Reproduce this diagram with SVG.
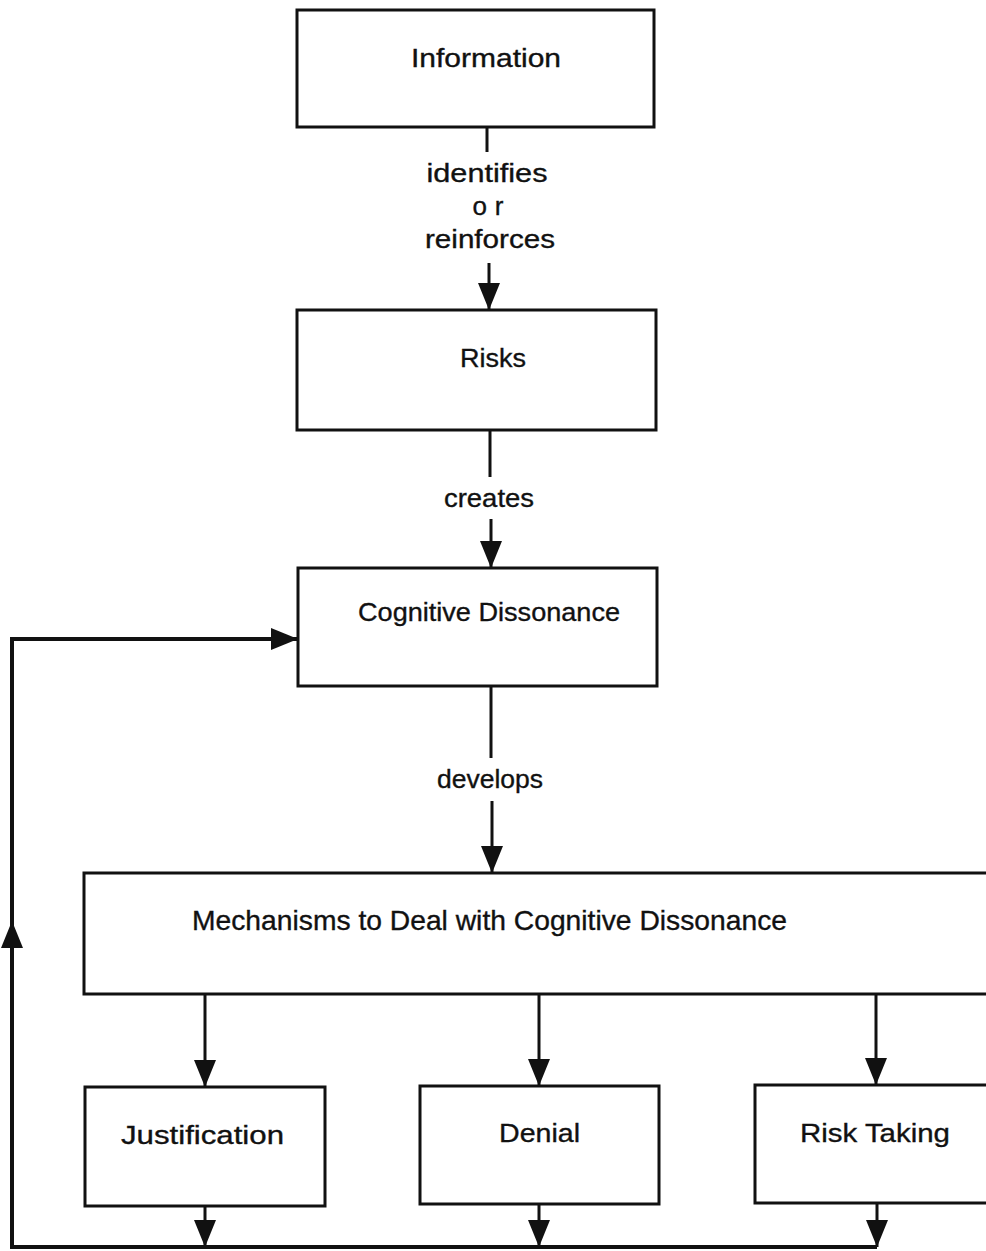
<svg xmlns="http://www.w3.org/2000/svg" width="986" height="1251" viewBox="0 0 986 1251">
<style>
.box{fill:#fff;stroke:#111;stroke-width:3}
.t{font-family:"Liberation Sans",Arial,sans-serif;font-size:26px;fill:#111;stroke:#111;stroke-width:0.35}
.c{stroke:#111;stroke-width:3;fill:none}
.loop{stroke:#111;stroke-width:4;fill:none}
</style>
<defs>
<marker id="ah" markerUnits="userSpaceOnUse" markerWidth="28" markerHeight="24" viewBox="0 0 28 24" refX="27" refY="12" orient="auto">
<path d="M0,1 L27,12 L0,23 Z" fill="#111"/>
</marker>
</defs>
<rect width="986" height="1251" fill="#fff"/>
<g id="connectors">
<line class="c" x1="487" y1="127" x2="487" y2="152"/>
<line class="c" x1="489" y1="263" x2="489" y2="310" marker-end="url(#ah)"/>
<line class="c" x1="490" y1="430" x2="490" y2="477"/>
<line class="c" x1="491" y1="519" x2="491" y2="568" marker-end="url(#ah)"/>
<line class="c" x1="491" y1="686" x2="491" y2="758"/>
<line class="c" x1="492" y1="801" x2="492" y2="873" marker-end="url(#ah)"/>
<line class="c" x1="205" y1="994" x2="205" y2="1087" marker-end="url(#ah)"/>
<line class="c" x1="539" y1="994" x2="539" y2="1086" marker-end="url(#ah)"/>
<line class="c" x1="876" y1="994" x2="876" y2="1085" marker-end="url(#ah)"/>
<line class="c" x1="205" y1="1206" x2="205" y2="1247" marker-end="url(#ah)"/>
<line class="c" x1="539" y1="1204" x2="539" y2="1247" marker-end="url(#ah)"/>
<line class="c" x1="877" y1="1203" x2="877" y2="1247" marker-end="url(#ah)"/>
<polyline class="loop" points="877,1247 12,1247 12,639 298,639"/>
<line class="loop" x1="12" y1="1000" x2="12" y2="921" marker-end="url(#ah)"/>
<line class="loop" x1="200" y1="639" x2="298" y2="639" marker-end="url(#ah)"/>
<text class="t" x="487" y="182" text-anchor="middle" textLength="121" lengthAdjust="spacingAndGlyphs">identifies</text>
<text class="t" x="488" y="215" text-anchor="middle" textLength="31" lengthAdjust="spacing">or</text>
<text class="t" x="490" y="248" text-anchor="middle" textLength="130" lengthAdjust="spacingAndGlyphs">reinforces</text>
<text class="t" x="489" y="507" text-anchor="middle" textLength="90" lengthAdjust="spacingAndGlyphs">creates</text>
<text class="t" x="490" y="788" text-anchor="middle" textLength="106" lengthAdjust="spacingAndGlyphs">develops</text>
</g>
<g id="information">
<rect class="box" x="297" y="10" width="357" height="117"/>
<text class="t" x="486" y="67" text-anchor="middle" textLength="150" lengthAdjust="spacingAndGlyphs">Information</text>
</g>
<g id="risks">
<rect class="box" x="297" y="310" width="359" height="120"/>
<text class="t" x="493" y="367" text-anchor="middle" textLength="66" lengthAdjust="spacingAndGlyphs">Risks</text>
</g>
<g id="cognitive-dissonance">
<rect class="box" x="298" y="568" width="359" height="118"/>
<text class="t" x="489" y="621" text-anchor="middle" textLength="262" lengthAdjust="spacingAndGlyphs">Cognitive Dissonance</text>
</g>
<g id="mechanisms">
<rect class="box" x="84" y="873" width="920" height="121"/>
<text class="t" x="192" y="930" textLength="595" lengthAdjust="spacingAndGlyphs" style="font-size:28px">Mechanisms to Deal with Cognitive Dissonance</text>
</g>
<g id="justification">
<rect class="box" x="85" y="1087" width="240" height="119"/>
<text class="t" x="121" y="1144" textLength="163" lengthAdjust="spacingAndGlyphs">Justification</text>
</g>
<g id="denial">
<rect class="box" x="420" y="1086" width="239" height="118"/>
<text class="t" x="499" y="1142" textLength="81" lengthAdjust="spacingAndGlyphs">Denial</text>
</g>
<g id="risk-taking">
<rect class="box" x="755" y="1085" width="250" height="118"/>
<text class="t" x="800" y="1142" textLength="150" lengthAdjust="spacingAndGlyphs">Risk Taking</text>
</g>
</svg>
